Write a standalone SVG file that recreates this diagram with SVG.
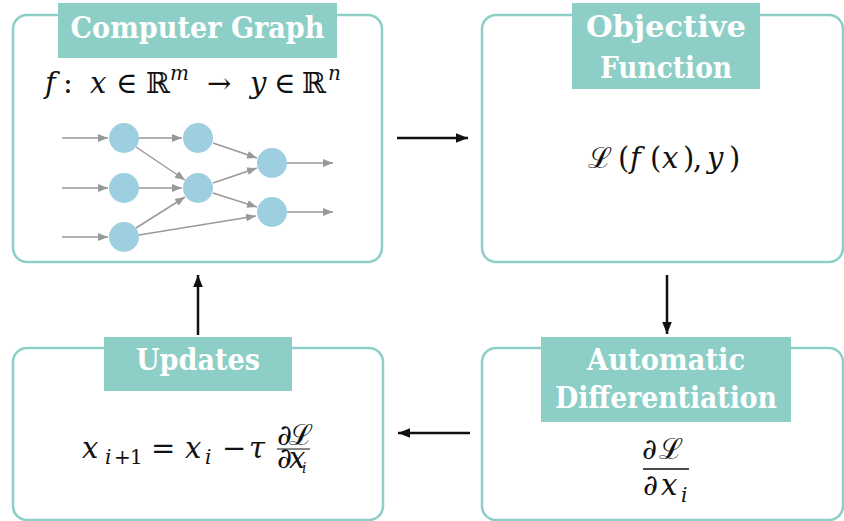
<svg xmlns="http://www.w3.org/2000/svg" width="844" height="521" viewBox="0 0 844 521">
<style>
.box{fill:#fff;stroke:#8dcfc7;stroke-width:2.5}
.lab{fill:#8dcfc7}
.lt{font-family:"DejaVu Serif","Liberation Serif","Noto Serif","Times New Roman",serif;font-weight:bold;font-size:29px;fill:#fff;text-anchor:middle}
.m{font-family:"DejaVu Serif","Liberation Serif","Noto Serif","Times New Roman",serif;font-style:italic;font-size:29px;fill:#111}
.r{font-style:normal}
.nn{fill:#9ecfe1}
.ge{stroke:#999;stroke-width:1.5;fill:none;marker-end:url(#ga)}
.bk{stroke:#111;stroke-width:2.5;fill:none;marker-end:url(#ba)}
</style>
<defs>
<marker id="ga" viewBox="0 0 10 10" refX="10" refY="5" markerWidth="10" markerHeight="10" markerUnits="userSpaceOnUse" orient="auto"><path d="M0,1 L10,5 L0,9 Z" fill="#999"/></marker>
<marker id="ba" viewBox="0 0 10 10" refX="10" refY="5" markerWidth="12" markerHeight="12" markerUnits="userSpaceOnUse" orient="auto"><path d="M0,1 L10,5 L0,9 Z" fill="#111"/></marker>
</defs>

<g id="computer-graph">
<rect class="box" x="13" y="15" width="369" height="247" rx="14"/>
<rect class="lab" x="58" y="3" width="279" height="55"/>
<text class="lt" x="197.5" y="38" textLength="254" lengthAdjust="spacingAndGlyphs">Computer Graph</text>
<text class="m" y="93"><tspan x="45">f</tspan><tspan class="r" x="63">:</tspan><tspan x="90">x</tspan><tspan class="r" x="116">∈</tspan><tspan class="r" x="146">ℝ</tspan><tspan font-size="20" x="170" y="80">m</tspan><tspan class="r" x="207" y="93">→</tspan><tspan x="250">y</tspan><tspan class="r" x="274">∈</tspan><tspan class="r" x="302">ℝ</tspan><tspan font-size="20" x="328" y="80">n</tspan></text>
<g id="network">
<line class="ge" x1="62" y1="138" x2="108" y2="138"/>
<line class="ge" x1="62" y1="188" x2="108" y2="188"/>
<line class="ge" x1="62" y1="237" x2="108" y2="237"/>
<line class="ge" x1="139" y1="138" x2="182" y2="138"/>
<line class="ge" x1="136" y1="147" x2="185" y2="180"/>
<line class="ge" x1="139" y1="188" x2="182" y2="188"/>
<line class="ge" x1="136" y1="228" x2="185" y2="197"/>
<line class="ge" x1="139" y1="235" x2="256" y2="216"/>
<line class="ge" x1="213" y1="143" x2="257" y2="158"/>
<line class="ge" x1="213" y1="183" x2="257" y2="168"/>
<line class="ge" x1="213" y1="193" x2="257" y2="207"/>
<line class="ge" x1="287" y1="163" x2="333" y2="163"/>
<line class="ge" x1="287" y1="212" x2="333" y2="212"/>
<circle class="nn" cx="124" cy="138" r="15"/>
<circle class="nn" cx="124" cy="188" r="15"/>
<circle class="nn" cx="124" cy="237" r="15"/>
<circle class="nn" cx="198" cy="138" r="15"/>
<circle class="nn" cx="198" cy="188" r="15"/>
<circle class="nn" cx="272" cy="163" r="15"/>
<circle class="nn" cx="272" cy="212" r="15"/>
</g>
</g>

<g id="objective-function">
<rect class="box" x="482" y="15" width="361" height="247" rx="14"/>
<rect class="lab" x="572" y="3" width="188" height="86"/>
<text class="lt" x="666" y="37" textLength="160" lengthAdjust="spacingAndGlyphs">Objective</text>
<text class="lt" x="666" y="78" textLength="132" lengthAdjust="spacingAndGlyphs">Function</text>
<text class="m" y="168" font-size="32"><tspan x="588">ℒ</tspan><tspan class="r" x="618">(</tspan><tspan x="630">f</tspan><tspan class="r" x="650">(</tspan><tspan x="662">x</tspan><tspan class="r" x="683">)</tspan><tspan class="r" x="693">,</tspan><tspan x="707">y</tspan><tspan class="r" x="729">)</tspan></text>
</g>

<g id="updates">
<rect class="box" x="13" y="348" width="370" height="172" rx="14"/>
<rect class="lab" x="104" y="337" width="188" height="54"/>
<text class="lt" x="198" y="370" textLength="124" lengthAdjust="spacingAndGlyphs">Updates</text>
<text class="m" y="458" font-size="31"><tspan x="82">x</tspan><tspan font-size="20" x="105" y="464">i</tspan><tspan class="r" font-size="20" x="114">+</tspan><tspan class="r" font-size="20" x="130">1</tspan><tspan class="r" x="151" y="458">=</tspan><tspan x="185">x</tspan><tspan font-size="20" x="205" y="464">i</tspan><tspan class="r" x="222" y="458">−</tspan><tspan x="249">τ</tspan></text>
<text class="m" font-size="20" y="445"><tspan class="r" x="277">∂</tspan><tspan x="289">ℒ</tspan></text>
<line x1="277" y1="449" x2="310" y2="449" stroke="#111" stroke-width="1"/>
<text class="m" font-size="20" y="468"><tspan class="r" x="277">∂</tspan><tspan x="289">x</tspan><tspan font-size="14" x="302" y="473">i</tspan></text>
</g>

<g id="automatic-differentiation">
<rect class="box" x="482" y="348" width="361" height="172" rx="14"/>
<rect class="lab" x="541" y="337" width="250" height="85"/>
<text class="lt" x="666" y="370" textLength="158" lengthAdjust="spacingAndGlyphs">Automatic</text>
<text class="lt" x="666" y="408" textLength="222" lengthAdjust="spacingAndGlyphs">Differentiation</text>
<text class="m" y="459"><tspan class="r" x="642">∂</tspan><tspan x="659">ℒ</tspan></text>
<line x1="643" y1="469" x2="689" y2="469" stroke="#111" stroke-width="1.3"/>
<text class="m" y="495"><tspan class="r" x="643">∂</tspan><tspan x="661">x</tspan><tspan font-size="20" x="681" y="502">i</tspan></text>
</g>

<g id="connectors">
<line class="bk" x1="397" y1="138" x2="468" y2="138"/>
<line class="bk" x1="667" y1="275" x2="667" y2="334"/>
<line class="bk" x1="470" y1="433" x2="398" y2="433"/>
<line class="bk" x1="198" y1="335" x2="198" y2="275"/>
</g>
</svg>
